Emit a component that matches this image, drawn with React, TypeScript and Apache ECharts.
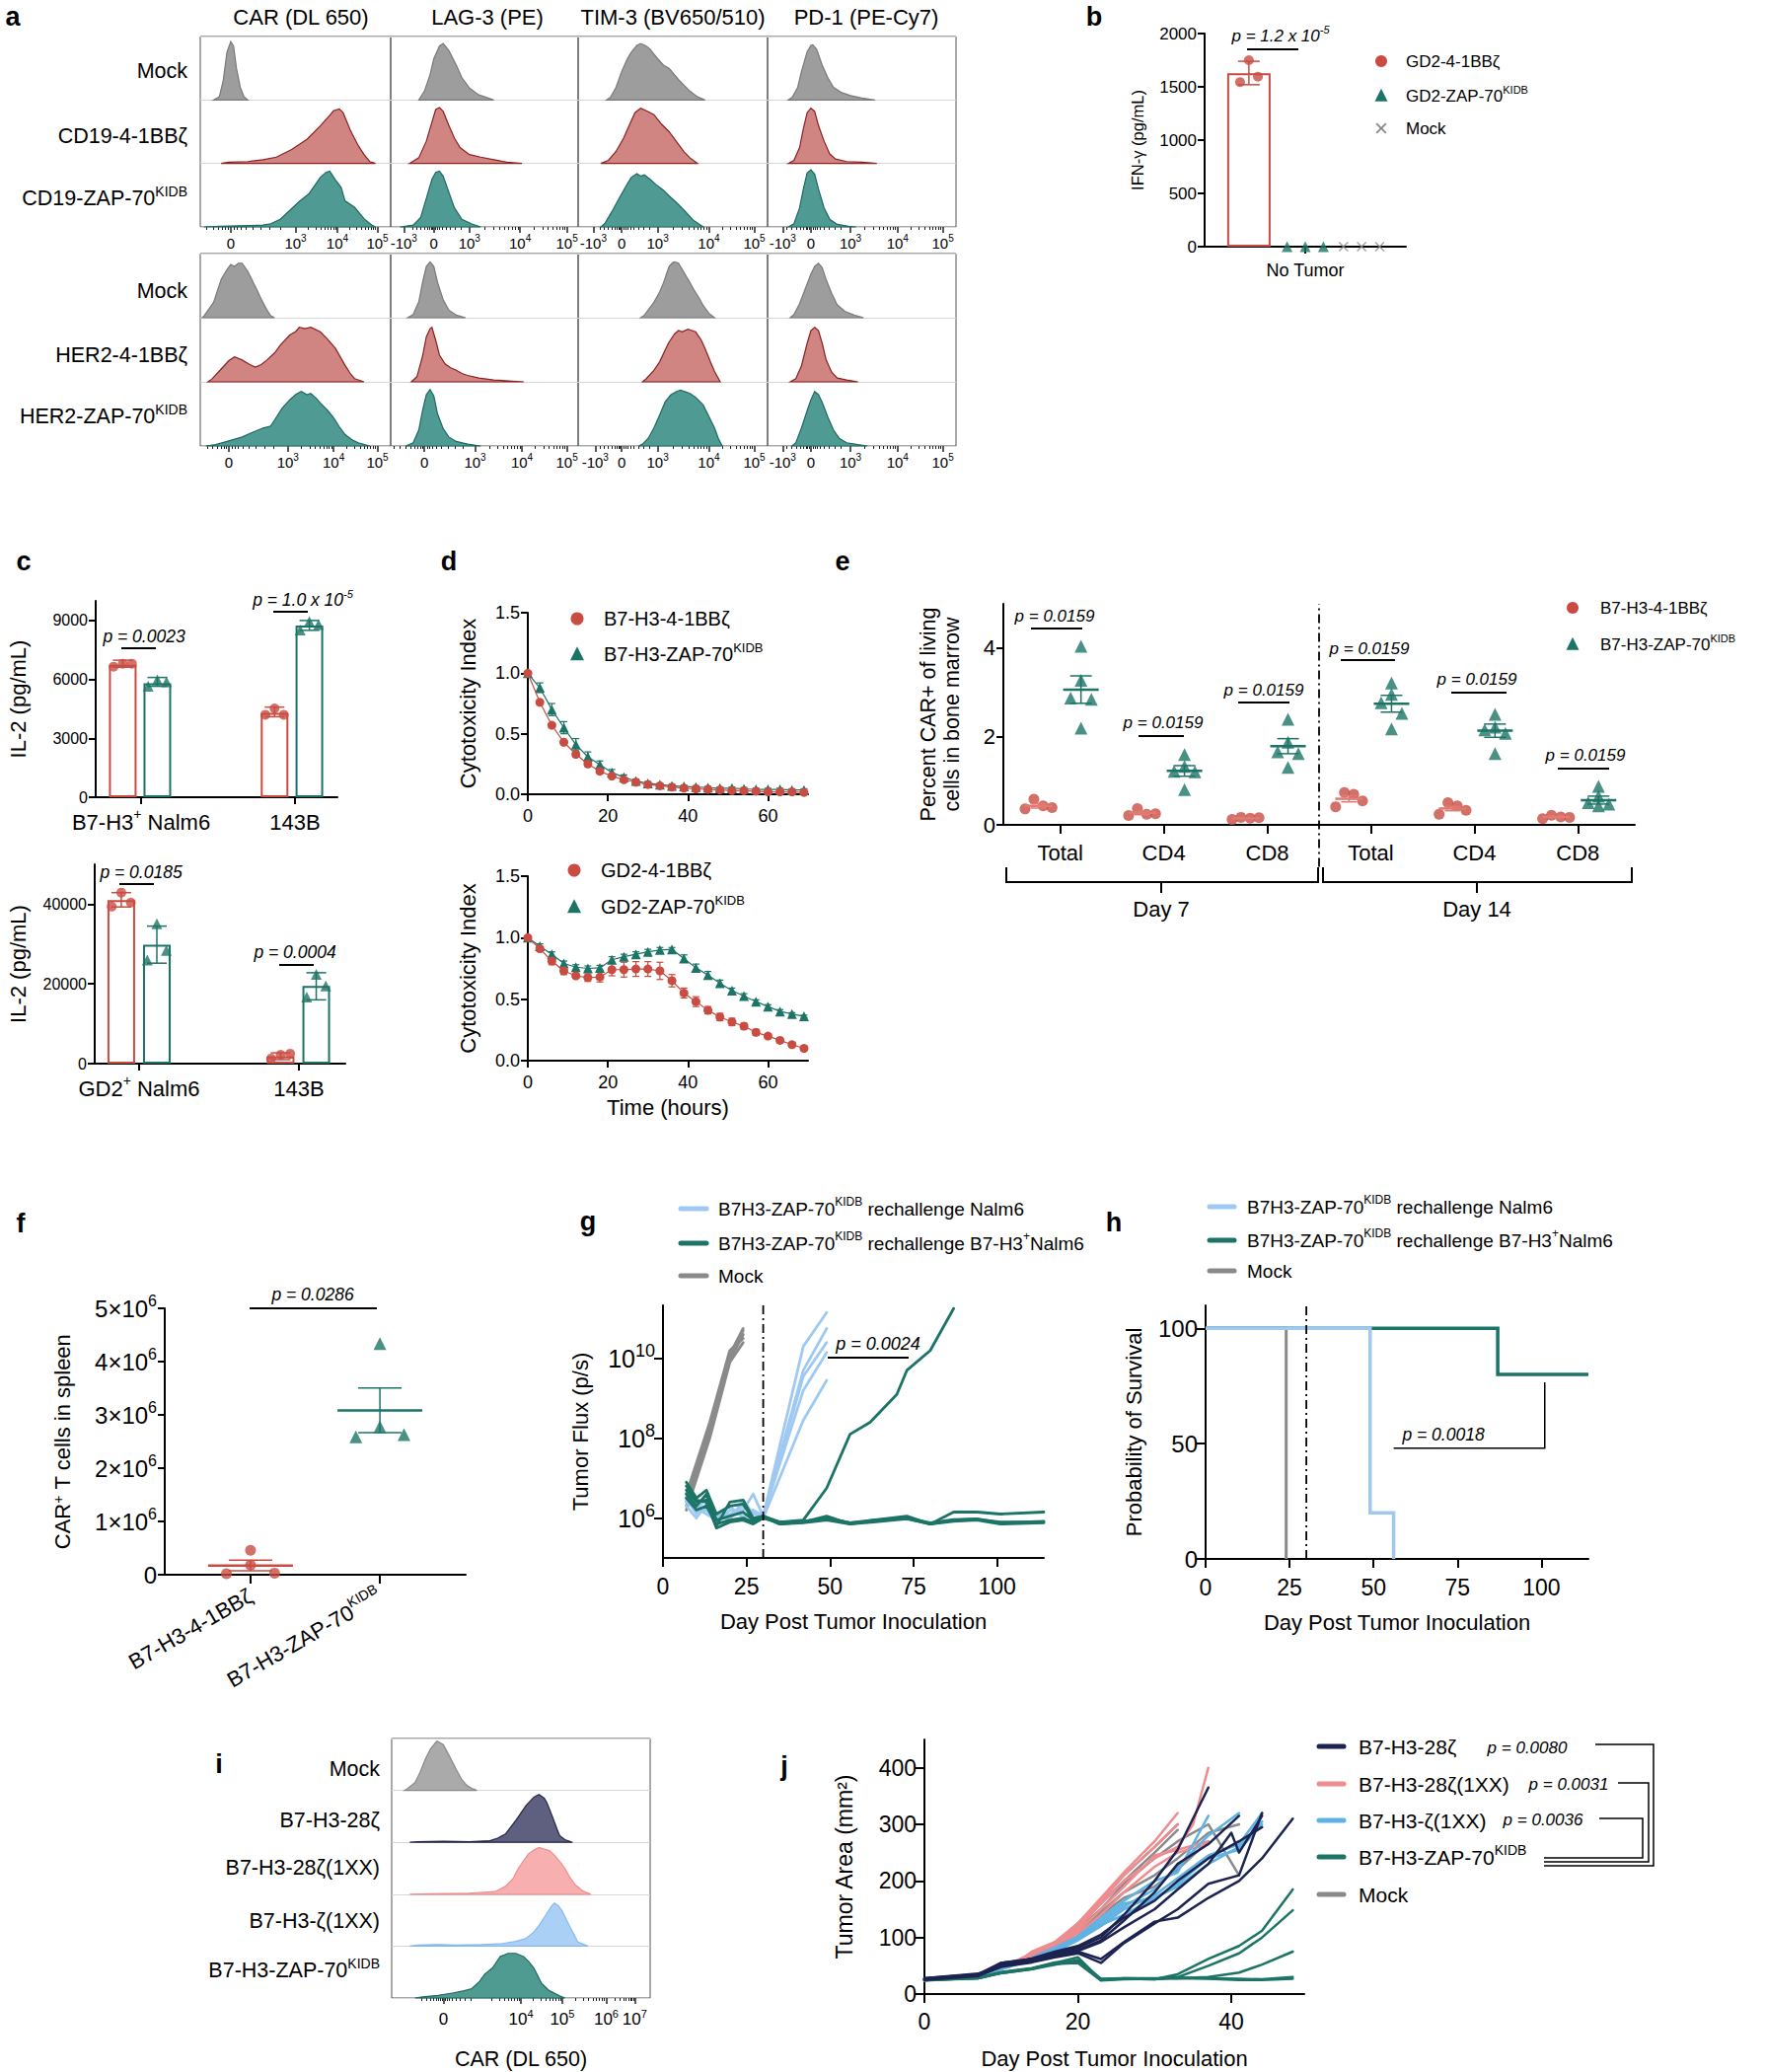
import React, { useEffect, useRef } from 'react';
import * as echarts from 'echarts';

type AnyObj = Record<string, any>;

const FONT = '"Liberation Sans", Arial, Helvetica, sans-serif';
const RED = '#c84c42';
const TEAL = '#1c7466';
const LBLUE = '#9fc9f2';
const NAVY = '#1c2350';
const PINK = '#ef8c90';
const SKY = '#5fb2e2';
const MOCKLINE = '#8a8a8a';

// ---------------- Panel a ----------------
const aColumnTitles = ['CAR (DL 650)', 'LAG-3 (PE)', 'TIM-3 (BV650/510)', 'PD-1 (PE-Cy7)'];
const aRowLabelsTop = ['Mock', 'CD19-4-1BBζ', 'CD19-ZAP-70^{KIDB}'];
const aRowLabelsBottom = ['Mock', 'HER2-4-1BBζ', 'HER2-ZAP-70^{KIDB}'];
const aTickLabTop = [
  ['0', '10^{3}', '10^{4}', '10^{5}'],
  ['-10^{3}', '0', '10^{3}', '10^{4}', '10^{5}'],
  ['-10^{3}', '0', '10^{3}', '10^{4}', '10^{5}'],
  ['-10^{3}', '0', '10^{3}', '10^{4}', '10^{5}'],
];
const aTickLabBottom = [
  ['0', '10^{3}', '10^{4}', '10^{5}'],
  ['0', '10^{3}', '10^{4}', '10^{5}'],
  ['-10^{3}', '0', '10^{3}', '10^{4}', '10^{5}'],
  ['-10^{3}', '0', '10^{3}', '10^{4}', '10^{5}'],
];
// histogram outlines: [column][row] -> [position %, relative height]
const aHistCD19 = [
  [
    [[7, 0], [10, 0.05], [12, 0.3], [14, 0.75], [16, 0.92], [17.5, 0.85], [19, 0.5], [21, 0.2], [23, 0.05], [25, 0]],
    [[11, 0], [15, 0.02], [25, 0.03], [33, 0.06], [40, 0.1], [48, 0.22], [56, 0.38], [63, 0.59], [68, 0.76], [70, 0.83], [73, 0.86], [75, 0.8], [79, 0.51], [83, 0.28], [86, 0.14], [89, 0.03], [92, 0]],
    [[2, 0], [10, 0.01], [25, 0.02], [33, 0.03], [37, 0.05], [42, 0.12], [47, 0.26], [52, 0.4], [57, 0.52], [63, 0.78], [66, 0.86], [68, 0.88], [71, 0.74], [74, 0.62], [76, 0.41], [81, 0.31], [86, 0.13], [90, 0.03], [92, 0]],
  ],
  [
    [[15, 0], [18, 0.14], [21, 0.4], [23, 0.65], [26, 0.85], [28, 0.89], [31, 0.78], [35, 0.55], [38, 0.35], [42, 0.19], [47, 0.08], [52, 0.03], [55, 0]],
    [[10, 0], [15, 0.09], [19, 0.35], [22, 0.65], [24, 0.85], [26, 0.88], [28, 0.82], [31, 0.6], [34, 0.4], [37, 0.25], [42, 0.14], [48, 0.1], [55, 0.06], [62, 0.02], [70, 0]],
    [[5, 0], [12, 0.03], [16, 0.15], [19, 0.45], [22, 0.75], [24, 0.86], [26, 0.88], [28, 0.8], [31, 0.55], [34, 0.3], [38, 0.12], [43, 0.05], [48, 0]],
  ],
  [
    [[15, 0], [17, 0.04], [20, 0.2], [23, 0.45], [26, 0.65], [28, 0.75], [31, 0.86], [33, 0.89], [36, 0.85], [38, 0.8], [42, 0.65], [45, 0.55], [48, 0.5], [53, 0.32], [59, 0.14], [63, 0.05], [67, 0]],
    [[12, 0], [16, 0.05], [20, 0.19], [24, 0.4], [27, 0.6], [30, 0.8], [33, 0.87], [36, 0.83], [40, 0.77], [44, 0.62], [48, 0.5], [53, 0.3], [56, 0.18], [59, 0.09], [63, 0]],
    [[12, 0], [14, 0.05], [18, 0.25], [22, 0.47], [26, 0.68], [28, 0.78], [31, 0.84], [33, 0.8], [35, 0.82], [38, 0.75], [41, 0.67], [45, 0.58], [48, 0.49], [52, 0.38], [56, 0.26], [61, 0.1], [66, 0]],
  ],
  [
    [[11, 0], [13, 0.04], [16, 0.2], [18, 0.45], [21, 0.76], [23, 0.86], [24, 0.87], [26, 0.8], [29, 0.55], [32, 0.35], [35, 0.2], [39, 0.12], [44, 0.07], [50, 0.03], [57, 0]],
    [[11, 0], [14, 0.05], [17, 0.25], [19, 0.55], [21, 0.8], [23, 0.87], [25, 0.82], [27, 0.6], [30, 0.35], [33, 0.15], [36, 0.07], [42, 0.03], [50, 0.02], [58, 0]],
    [[11, 0], [14, 0.05], [17, 0.3], [19, 0.6], [21, 0.85], [23, 0.9], [25, 0.83], [27, 0.6], [30, 0.3], [33, 0.12], [37, 0.04], [43, 0.01], [47, 0]],
  ],
];
const aHistHER2 = [
  [
    [[1, 0], [2, 0.03], [7, 0.24], [11, 0.6], [14, 0.75], [16, 0.83], [18, 0.8], [20, 0.85], [22, 0.85], [25, 0.72], [27, 0.6], [30, 0.42], [32, 0.29], [35, 0.12], [37, 0.03], [39, 0]],
    [[4, 0], [6, 0.04], [11, 0.2], [15, 0.33], [18, 0.39], [22, 0.34], [26, 0.27], [29, 0.23], [32, 0.27], [35, 0.34], [39, 0.45], [42, 0.57], [47, 0.73], [50, 0.78], [52, 0.85], [55, 0.83], [58, 0.85], [63, 0.78], [67, 0.66], [71, 0.52], [76, 0.26], [79, 0.12], [81, 0.05], [86, 0]],
    [[3, 0], [8, 0.02], [15, 0.08], [22, 0.14], [28, 0.22], [33, 0.28], [37, 0.31], [40, 0.45], [43, 0.59], [47, 0.72], [50, 0.8], [53, 0.85], [56, 0.8], [58, 0.82], [61, 0.74], [63, 0.67], [67, 0.55], [70, 0.44], [73, 0.3], [76, 0.18], [80, 0.09], [83, 0.05], [89, 0]],
  ],
  [
    [[9, 0], [12, 0.05], [15, 0.25], [17, 0.55], [19, 0.8], [21, 0.87], [23, 0.8], [25, 0.55], [28, 0.28], [31, 0.12], [35, 0.04], [40, 0]],
    [[11, 0], [14, 0.08], [17, 0.4], [19, 0.7], [21, 0.83], [22, 0.85], [24, 0.65], [26, 0.42], [29, 0.28], [32, 0.22], [35, 0.18], [38, 0.13], [41, 0.1], [47, 0.06], [55, 0.03], [65, 0.01], [71, 0]],
    [[8, 0], [12, 0.05], [15, 0.25], [17, 0.55], [19, 0.8], [21, 0.88], [23, 0.78], [25, 0.5], [28, 0.27], [31, 0.14], [35, 0.07], [41, 0.03], [48, 0]],
  ],
  [
    [[33, 0], [35, 0.04], [40, 0.24], [43, 0.4], [45, 0.54], [48, 0.8], [50, 0.86], [51, 0.87], [53, 0.85], [56, 0.7], [59, 0.55], [61, 0.44], [64, 0.3], [66, 0.19], [69, 0.07], [72, 0]],
    [[34, 0], [36, 0.05], [40, 0.18], [43, 0.31], [46, 0.5], [48, 0.62], [51, 0.75], [53, 0.8], [55, 0.78], [58, 0.82], [60, 0.8], [62, 0.78], [65, 0.65], [67, 0.52], [70, 0.3], [72, 0.16], [75, 0]],
    [[32, 0], [34, 0.03], [37, 0.12], [40, 0.28], [43, 0.48], [46, 0.69], [49, 0.8], [52, 0.85], [54, 0.87], [57, 0.84], [59, 0.82], [62, 0.76], [66, 0.64], [69, 0.46], [72, 0.28], [74, 0.12], [76, 0]],
  ],
  [
    [[12, 0], [14, 0.05], [17, 0.22], [20, 0.45], [23, 0.68], [25, 0.8], [27, 0.85], [29, 0.78], [31, 0.6], [34, 0.38], [37, 0.2], [41, 0.1], [46, 0.04], [51, 0]],
    [[12, 0], [15, 0.05], [18, 0.25], [21, 0.6], [23, 0.8], [25, 0.85], [27, 0.8], [29, 0.6], [31, 0.35], [34, 0.15], [37, 0.06], [42, 0.03], [48, 0]],
    [[13, 0], [15, 0.05], [18, 0.28], [21, 0.55], [23, 0.72], [25, 0.85], [27, 0.8], [29, 0.68], [32, 0.45], [35, 0.25], [38, 0.12], [42, 0.05], [48, 0.02], [53, 0]],
  ],
];

// ---------------- Panel b ----------------
const bCategory = ['No Tumor'];
const bLegend = ['GD2-4-1BBζ', 'GD2-ZAP-70^{KIDB}', 'Mock'];
const bBarMean = 1627;
const bBarSD = [1520, 1740];
const bRedPts = [1545, 1750, 1595];
const bTealPts = [0, 0, 0];
const bMockPts = [0, 0, 0];

// ---------------- Panel c ----------------
const cTopCats = ['B7-H3^{+} Nalm6', '143B'];
const cTopBars = [6750, 5800, 4300, 8750];
const cTopErr = [[6620, 6980], [5650, 6100], [4100, 4590], [8500, 9000]];
const cTopPts = [[6650, 6800, 6800], [5650, 5980, 5880], [4200, 4520, 4200], [8520, 8950, 8800]];
const cBotCats = ['GD2^{+} Nalm6', '143B'];
const cBotBars = [41000, 29800, 1800, 19500];
const cBotErr = [[39300, 42900], [25200, 34500], [1000, 2700], [16000, 22800]];
const cBotPts = [[39400, 42900, 40400], [26000, 35100, 28400], [1250, 2200, 2500], [16700, 22400, 19500]];

// ---------------- Panel d ----------------
const dTime = [0, 3, 6, 9, 12, 15, 18, 21, 24, 27, 30, 33, 36, 39, 42, 45, 48, 51, 54, 57, 60, 63, 66, 69];
const dTopRed = [1.0, 0.76, 0.57, 0.43, 0.33, 0.25, 0.19, 0.15, 0.12, 0.1, 0.08, 0.07, 0.06, 0.05, 0.045, 0.04, 0.035, 0.03, 0.03, 0.025, 0.02, 0.02, 0.02, 0.015];
const dTopTeal = [1.0, 0.88, 0.7, 0.55, 0.41, 0.31, 0.245, 0.18, 0.14, 0.11, 0.09, 0.08, 0.07, 0.065, 0.06, 0.055, 0.05, 0.05, 0.045, 0.04, 0.04, 0.04, 0.035, 0.035];
const dTopRedSD = [0, 0.02, 0.02, 0.02, 0.02, 0.02, 0.015, 0.01, 0.01, 0.01, 0.01, 0.01, 0.01, 0.01, 0.01, 0.01, 0.01, 0.01, 0.01, 0.01, 0.01, 0.01, 0.01, 0.01];
const dTopTealSD = [0, 0.04, 0.05, 0.05, 0.05, 0.04, 0.03, 0.025, 0.02, 0.015, 0.015, 0.01, 0.01, 0.01, 0.01, 0.01, 0.01, 0.01, 0.01, 0.01, 0.01, 0.01, 0.01, 0.01];
const dBotRed = [1.0, 0.91, 0.81, 0.73, 0.69, 0.675, 0.68, 0.74, 0.74, 0.745, 0.745, 0.73, 0.65, 0.55, 0.48, 0.41, 0.355, 0.315, 0.28, 0.23, 0.2, 0.165, 0.13, 0.1];
const dBotTeal = [1.0, 0.93, 0.865, 0.79, 0.76, 0.75, 0.755, 0.82, 0.845, 0.865, 0.885, 0.9, 0.905, 0.83, 0.755, 0.695, 0.63, 0.57, 0.525, 0.48, 0.44, 0.4, 0.38, 0.36];
const dBotRedSD = [0, 0.02, 0.03, 0.03, 0.02, 0.03, 0.04, 0.05, 0.06, 0.06, 0.06, 0.07, 0.05, 0.04, 0.04, 0.03, 0.03, 0.03, 0.025, 0.025, 0.02, 0.02, 0.02, 0.02];
const dBotTealSD = [0, 0.02, 0.02, 0.02, 0.02, 0.02, 0.02, 0.025, 0.02, 0.02, 0.02, 0.02, 0.015, 0.03, 0.03, 0.03, 0.025, 0.02, 0.02, 0.015, 0.015, 0.015, 0.01, 0.01];
const dXTicks = [0, 20, 40, 60];
const dYTicks = [0, 0.5, 1.0, 1.5];

// ---------------- Panel e ----------------
const eCats = ['Total', 'CD4', 'CD8', 'Total', 'CD4', 'CD8'];
const eGroups = ['Day 7', 'Day 14'];
const eRed = [[0.36, 0.58, 0.43, 0.39], [0.21, 0.37, 0.24, 0.25], [0.12, 0.17, 0.15, 0.16], [0.41, 0.73, 0.69, 0.54], [0.24, 0.5, 0.43, 0.33], [0.14, 0.22, 0.18, 0.17]];
const eTeal = [[4.04, 3.27, 2.87, 2.84, 2.19], [1.59, 1.32, 1.21, 1.2, 0.8], [2.39, 1.87, 1.65, 1.61, 1.3], [3.21, 2.95, 2.76, 2.52, 2.17], [2.5, 2.21, 2.15, 2.07, 1.61], [0.87, 0.65, 0.5, 0.47, 0.43]];
const eRedMean = [0.43, 0.27, 0.15, 0.59, 0.37, 0.18];
const eRedSEM = [0.05, 0.04, 0.01, 0.07, 0.05, 0.02];
const eTealMean = [3.06, 1.22, 1.78, 2.74, 2.13, 0.56];
const eTealSEM = [0.31, 0.12, 0.17, 0.19, 0.15, 0.09];
const eP = ['p = 0.0159', 'p = 0.0159', 'p = 0.0159', 'p = 0.0159', 'p = 0.0159', 'p = 0.0159'];

// ---------------- Panel f ----------------
const fCats = ['B7-H3-4-1BBζ', 'B7-H3-ZAP-70^{KIDB}'];
const fRed = [20000, 457000, 180000, 30000];
const fTeal = [4340000, 2780000, 2590000, 2630000];
const fRedMean = 172000;
const fRedSEM = 100000;
const fTealMean = 3085000;
const fTealSEM = 420000;
const fYTicks = [0, 1e6, 2e6, 3e6, 4e6, 5e6];

// ---------------- Panel g (log10 of tumor flux, p/s) ----------------
const gLegend = ['B7H3-ZAP-70^{KIDB} rechallenge Nalm6', 'B7H3-ZAP-70^{KIDB} rechallenge B7-H3^{+}Nalm6', 'Mock'];
const gMock = [
  [[7, 6.5], [14, 8.3], [20, 10.1], [24, 10.75]],
  [[7, 6.3], [14, 8.1], [20, 9.95], [24, 10.6]],
  [[7, 6.6], [14, 8.4], [20, 10.2], [24, 10.5]],
  [[7, 6.2], [14, 8.0], [20, 9.9], [24, 10.4]],
  [[7, 6.4], [14, 8.2], [20, 10.05], [24, 10.7]],
];
const gNalm6 = [
  [[7, 6.5], [10, 6.1], [13, 6.3], [16, 6.0], [20, 6.1], [24, 6.2], [27, 6.6], [30, 6.05], [42, 10.3], [49, 11.15]],
  [[7, 6.4], [10, 6.2], [13, 6.5], [16, 6.1], [20, 5.95], [24, 6.45], [27, 6.1], [30, 6.05], [42, 9.7], [49, 10.75]],
  [[7, 6.6], [10, 6.15], [13, 6.2], [16, 5.9], [20, 6.2], [24, 6.1], [27, 6.0], [30, 6.0], [42, 9.55], [49, 10.4]],
  [[7, 6.3], [10, 6.0], [13, 6.35], [16, 6.05], [20, 6.3], [24, 6.0], [27, 6.2], [30, 6.05], [42, 9.2], [49, 10.15]],
  [[7, 6.45], [10, 6.25], [13, 6.1], [16, 5.95], [20, 6.05], [24, 6.3], [27, 6.15], [30, 6.0], [42, 8.45], [49, 9.45]],
];
const gB7H3 = [
  [[7, 6.9], [10, 6.5], [13, 6.7], [16, 6.1], [20, 6.3], [24, 6.35], [27, 5.95], [30, 6.05], [35, 5.9], [42, 5.95], [49, 6.75], [56, 8.1], [62, 8.4], [70, 9.1], [73, 9.7], [80, 10.2], [87, 11.25]],
  [[7, 6.7], [10, 6.4], [13, 6.45], [16, 5.8], [20, 6.4], [24, 6.45], [27, 6.0], [30, 6.05], [35, 5.85], [42, 5.9], [49, 6.0], [56, 5.88], [63, 5.95], [73, 6.0], [80, 5.85], [87, 6.15], [94, 6.15], [101, 6.1], [114, 6.15]],
  [[7, 6.5], [10, 6.2], [13, 6.3], [16, 5.85], [20, 5.95], [24, 6.0], [27, 5.9], [30, 6.0], [35, 5.9], [42, 5.9], [49, 6.05], [56, 5.85], [63, 5.95], [73, 6.05], [80, 5.85], [87, 5.95], [94, 5.98], [101, 5.88], [114, 5.92]],
  [[7, 6.6], [10, 6.3], [13, 6.6], [16, 5.95], [20, 6.05], [24, 6.15], [27, 5.95], [30, 6.02], [35, 5.85], [42, 5.88], [49, 5.95], [56, 5.85], [63, 5.9], [73, 5.98], [80, 5.85], [87, 5.92], [94, 5.95], [101, 5.85], [114, 5.88]],
  [[7, 6.8], [10, 6.45], [13, 6.4], [16, 5.75], [20, 5.9], [24, 5.95], [27, 5.85], [30, 6.0], [35, 5.88], [42, 5.92], [49, 6.0], [56, 5.88], [63, 5.92], [73, 6.0], [80, 5.88], [87, 5.96], [94, 5.97], [101, 5.9], [114, 5.9]],
];
const gXTicks = [0, 25, 50, 75, 100];
const gYTicks = [6, 8, 10];
const gYLabels = ['10^{6}', '10^{8}', '10^{10}'];

// ---------------- Panel h ----------------
const hMock = [[0, 100], [24, 100], [24, 0]];
const hNalm6 = [[0, 100], [49, 100], [49, 20], [56, 20], [56, 0]];
const hB7H3 = [[0, 100], [87, 100], [87, 80], [114, 80]];
const hYTicks = [0, 50, 100];

// ---------------- Panel i ----------------
const iRows = ['Mock', 'B7-H3-28ζ', 'B7-H3-28ζ(1XX)', 'B7-H3-ζ(1XX)', 'B7-H3-ZAP-70^{KIDB}'];
const iTickLab = ['0', '10^{4}', '10^{5}', '10^{6}', '10^{7}'];
const iHist = [
  [[5, 0], [6, 0.03], [9, 0.15], [11, 0.35], [13, 0.6], [15, 0.8], [17.5, 0.95], [20, 0.88], [23, 0.6], [25, 0.4], [27, 0.22], [29, 0.1], [31, 0.04], [33, 0]],
  [[7, 0], [10, 0.01], [20, 0.02], [30, 0.01], [38, 0.03], [41, 0.08], [44, 0.16], [48, 0.42], [52, 0.71], [55, 0.87], [57, 0.92], [59, 0.85], [60, 0.77], [62, 0.52], [64, 0.25], [65, 0.13], [67, 0.05], [70, 0]],
  [[7, 0], [15, 0.01], [30, 0.02], [40, 0.05], [44, 0.15], [47, 0.3], [49, 0.5], [53, 0.78], [55, 0.85], [57, 0.9], [59, 0.87], [61, 0.84], [63, 0.75], [65, 0.63], [67, 0.5], [69, 0.32], [71, 0.18], [74, 0.06], [77, 0]],
  [[7, 0], [10, 0.02], [18, 0.03], [25, 0.02], [35, 0.03], [43, 0.05], [48, 0.09], [52, 0.15], [55, 0.27], [57, 0.4], [59, 0.55], [60, 0.63], [62, 0.78], [63, 0.83], [64.5, 0.78], [66, 0.67], [69, 0.37], [71, 0.18], [72, 0.08], [76, 0]],
  [[9, 0], [12, 0.02], [18, 0.05], [24, 0.1], [28, 0.14], [31, 0.18], [34, 0.32], [36, 0.46], [39, 0.58], [42, 0.8], [45, 0.86], [48, 0.86], [51, 0.8], [53, 0.7], [55, 0.58], [58, 0.28], [61, 0.14], [65, 0.04], [67, 0]],
];

// ---------------- Panel j ----------------
const jLegend = ['B7-H3-28ζ', 'B7-H3-28ζ(1XX)', 'B7-H3-ζ(1XX)', 'B7-H3-ZAP-70^{KIDB}', 'Mock'];
const jP = ['p = 0.0080', 'p = 0.0031', 'p = 0.0036'];
const j28z = [
  [[0, 28], [7, 35], [10, 55], [14, 62], [17, 72], [20, 82], [23, 100], [26, 140], [30, 200], [33, 255], [37, 365]],
  [[0, 27], [7, 33], [10, 50], [14, 58], [17, 70], [20, 78], [23, 95], [26, 130], [30, 180], [33, 230], [37, 265], [41, 315]],
  [[0, 25], [7, 32], [10, 48], [14, 56], [17, 65], [20, 72], [23, 55], [26, 90], [30, 125], [33, 150], [37, 195], [41, 210], [44, 320]],
  [[0, 26], [7, 34], [10, 52], [14, 60], [17, 68], [20, 75], [23, 62], [26, 92], [30, 128], [33, 135], [37, 170], [41, 200], [44, 240], [48, 310]],
  [[0, 28], [7, 36], [10, 50], [14, 63], [17, 75], [20, 85], [23, 105], [26, 135], [30, 165], [33, 200], [37, 240], [41, 270], [44, 295]],
  [[0, 27], [7, 33], [10, 55], [14, 62], [17, 70], [20, 76], [23, 92], [26, 118], [30, 150], [33, 185], [37, 230], [40, 285], [41, 250], [44, 315]],
];
const j28z1xx = [
  [[0, 25], [7, 33], [10, 45], [12, 55], [14, 75], [17, 92], [20, 125], [23, 170], [26, 215], [30, 270], [33, 320]],
  [[0, 24], [7, 32], [10, 44], [14, 70], [17, 88], [20, 115], [23, 160], [26, 200], [30, 240], [33, 260], [35, 300], [37, 400]],
  [[0, 26], [7, 33], [10, 46], [14, 72], [17, 85], [20, 110], [23, 150], [26, 190], [30, 245], [33, 255], [37, 270]],
  [[0, 25], [7, 34], [10, 47], [14, 68], [17, 90], [20, 120], [23, 165], [26, 210], [30, 260], [33, 300]],
  [[0, 25], [7, 32], [10, 45], [14, 65], [17, 80], [20, 105], [23, 140], [26, 180], [30, 225], [33, 250], [37, 265]],
];
const jz1xx = [
  [[0, 25], [7, 30], [10, 45], [14, 62], [17, 78], [20, 98], [23, 125], [26, 155], [30, 185], [33, 225], [37, 280], [41, 320]],
  [[0, 26], [7, 31], [10, 44], [14, 60], [17, 75], [20, 95], [23, 120], [26, 150], [30, 175], [33, 205], [37, 245], [41, 265], [44, 320]],
  [[0, 25], [7, 30], [10, 46], [14, 63], [17, 80], [20, 100], [23, 130], [26, 160], [30, 170], [33, 190], [37, 230], [41, 260], [44, 305]],
  [[0, 24], [7, 31], [10, 45], [14, 64], [17, 82], [20, 102], [23, 135], [26, 165], [30, 200], [33, 215], [37, 315]],
  [[0, 25], [7, 30], [10, 44], [14, 61], [17, 76], [20, 96], [23, 122], [26, 140], [30, 170], [33, 195], [37, 240], [41, 255], [44, 300]],
];
const jZap = [
  [[0, 25], [7, 28], [10, 38], [14, 45], [17, 55], [20, 65], [23, 25], [26, 27], [30, 26], [33, 35], [37, 62], [41, 85], [44, 112], [48, 185]],
  [[0, 24], [7, 28], [10, 37], [14, 44], [17, 52], [20, 60], [23, 27], [26, 28], [30, 27], [33, 30], [37, 50], [41, 72], [44, 100], [48, 148]],
  [[0, 26], [7, 29], [10, 39], [14, 46], [17, 56], [20, 58], [23, 25], [26, 28], [30, 28], [33, 28], [37, 30], [41, 38], [44, 52], [48, 75]],
  [[0, 25], [7, 28], [10, 38], [14, 45], [17, 53], [20, 55], [23, 24], [26, 26], [30, 27], [33, 28], [37, 27], [41, 25], [44, 25], [48, 27]],
  [[0, 25], [7, 29], [10, 37], [14, 44], [17, 54], [20, 57], [23, 26], [26, 27], [30, 26], [33, 29], [37, 28], [41, 27], [44, 26], [48, 30]],
];
const jMock = [
  [[0, 25], [7, 33], [10, 48], [14, 70], [17, 90], [20, 125], [23, 165], [26, 210], [30, 260], [33, 300]],
  [[0, 26], [7, 34], [10, 47], [14, 68], [17, 85], [20, 115], [23, 150], [26, 195], [30, 240], [33, 270], [37, 300], [41, 210]],
  [[0, 25], [7, 32], [10, 46], [14, 66], [17, 82], [20, 110], [23, 145], [26, 180], [30, 210], [33, 240], [37, 285], [41, 300]],
  [[0, 24], [7, 33], [10, 47], [14, 67], [17, 84], [20, 112], [23, 140], [26, 170], [30, 190], [33, 220], [37, 270]],
  [[0, 25], [7, 33], [10, 48], [14, 69], [17, 88], [20, 120], [23, 160], [26, 200], [30, 250], [33, 290]],
];
const jXTicks = [0, 20, 40];
const jYTicks = [0, 100, 200, 300, 400];

// ---------------- helpers ----------------
const sup = (s: string) => s.replace(/\^\{([^}]*)\}/g, '{sup|$1}');

const labelAt = (v: number, ticks: number[], labels: string[]) => {
  const i = ticks.findIndex((t) => Math.abs(t - v) < 1e-6 * Math.max(1, Math.abs(t)));
  return i >= 0 ? sup(labels[i]) : '';
};

const lbl = (size: number, ratio = 0.65) => ({
  color: '#000',
  fontSize: size,
  fontFamily: FONT,
  lineHeight: Math.round(size * 1.35),
  rich: {
    sup: {
      fontSize: Math.round(size * ratio),
      lineHeight: Math.round(size * ratio),
      verticalAlign: 'top',
      fontFamily: FONT,
      color: '#000',
    },
  },
});

const AXLINE = { show: true, onZero: false, lineStyle: { color: '#000', width: 2 } };
const tickStyle = (len = 7) => ({ show: true, length: len, lineStyle: { color: '#000', width: 2 } });

const numAxis = (min: number, max: number, ticks: number[], labels: string[], size: number, o: AnyObj = {}) => {
  const ax: AnyObj = {
    type: 'value',
    min,
    max,
    axisLine: AXLINE,
    axisTick: { ...tickStyle(o.tickLen ?? 7), customValues: ticks },
    axisLabel: {
      ...lbl(size, o.supRatio ?? 0.65),
      margin: o.margin ?? 8,
      rotate: o.rotate ?? 0,
      customValues: ticks,
      formatter: (v: number) => labelAt(v, ticks, labels),
    },
    splitLine: { show: false },
  };
  if (o.name) {
    ax.name = sup(o.name);
    ax.nameLocation = 'middle';
    ax.nameGap = o.nameGap;
    ax.nameTextStyle = { ...lbl(o.nameSize), lineHeight: o.nameLH ?? o.nameSize };
  }
  return ax;
};

function gText(x: number, y: number, text: string, size: number, o: AnyObj = {}) {
  const align = o.align || 'center';
  const va = o.va || 'middle';
  return {
    type: 'text',
    x,
    y,
    silent: true,
    z: 100,
    style: {
      text: sup(text),
      fill: o.color || '#000',
      fontSize: size,
      fontFamily: FONT,
      fontStyle: o.italic ? 'italic' : 'normal',
      fontWeight: o.bold ? 'bold' : 'normal',
      align,
      verticalAlign: va,
      textAlign: align,
      textVerticalAlign: va,
      lineHeight: Math.round(size * 1.35),
      rich: {
        sup: {
          fontSize: Math.round(size * 0.65),
          lineHeight: Math.round(size * 0.65),
          verticalAlign: 'top',
          fontFamily: FONT,
          fontStyle: o.italic ? 'italic' : 'normal',
          fill: o.color || '#000',
        },
      },
    },
  };
}
const gLine = (x1: number, y1: number, x2: number, y2: number, w = 2, color = '#000') => ({
  type: 'line', silent: true, z: 100, shape: { x1, y1, x2, y2 }, style: { stroke: color, lineWidth: w, lineCap: 'butt' },
});
const gPoly = (points: number[][], w = 1.5) => ({
  type: 'polyline', silent: true, z: 100, shape: { points }, style: { stroke: '#000', lineWidth: w, fill: null },
});
const gCircle = (cx: number, cy: number, r: number, fill: string) => ({
  type: 'circle', silent: true, z: 100, shape: { cx, cy, r }, style: { fill },
});
const gTri = (cx: number, cy: number, s: number, fill: string) => ({
  type: 'polygon', silent: true, z: 100,
  shape: { points: [[cx, cy - s * 0.55], [cx + s * 0.5, cy + s * 0.45], [cx - s * 0.5, cy + s * 0.45]] },
  style: { fill },
});
const gCross = (cx: number, cy: number, s: number, fill: string) => {
  const h = s / 2, t = s * 0.12;
  return {
    type: 'polygon', silent: true, z: 100,
    shape: {
      points: [
        [cx - h, cy - h + t], [cx - h + t, cy - h], [cx, cy - t], [cx + h - t, cy - h], [cx + h, cy - h + t], [cx + t, cy],
        [cx + h, cy + h - t], [cx + h - t, cy + h], [cx, cy + t], [cx - h + t, cy + h], [cx - h, cy + h - t], [cx - t, cy],
      ],
    },
    style: { fill },
  };
};

const CROSS_PATH = 'path://M1,0 L5,4 L9,0 L10,1 L6,5 L10,9 L9,10 L5,6 L1,10 L0,9 L4,5 L0,1 Z';

function histSeries(xi: number, yi: number, hists: number[][][], fills: string[], strokes: string[]) {
  const n = hists.length;
  return {
    type: 'custom',
    xAxisIndex: xi,
    yAxisIndex: yi,
    silent: true,
    data: hists.map((_, i) => [i, 0]),
    renderItem: (params: any, api: any) => {
      const i = params.dataIndex;
      const base = n - 1 - i;
      const pts = hists[i].map((p) => api.coord([p[0], base + p[1]]));
      return { type: 'polygon', shape: { points: pts }, style: { fill: fills[i], stroke: strokes[i], lineWidth: 1.2 } };
    },
  };
}

function errSeries(xi: number, yi: number, items: number[][], capPx: number, colors: string[] | string, lw = 1.5) {
  return {
    type: 'custom',
    xAxisIndex: xi,
    yAxisIndex: yi,
    silent: true,
    z: 4,
    data: items,
    renderItem: (params: any, api: any) => {
      const x = api.value(0), lo = api.value(1), hi = api.value(2);
      const p1 = api.coord([x, lo]);
      const p2 = api.coord([x, hi]);
      const h = capPx / 2;
      const color = Array.isArray(colors) ? colors[params.dataIndex] : colors;
      const st = { stroke: color, lineWidth: lw };
      return {
        type: 'group',
        children: [
          { type: 'line', shape: { x1: p1[0], y1: p1[1], x2: p2[0], y2: p2[1] }, style: st },
          { type: 'line', shape: { x1: p1[0] - h, y1: p1[1], x2: p1[0] + h, y2: p1[1] }, style: st },
          { type: 'line', shape: { x1: p2[0] - h, y1: p2[1], x2: p2[0] + h, y2: p2[1] }, style: st },
        ],
      };
    },
  };
}

function meanSeries(xi: number, yi: number, items: number[][], halfPx: number, color: string, lw = 2.5) {
  return {
    type: 'custom',
    xAxisIndex: xi,
    yAxisIndex: yi,
    silent: true,
    z: 4,
    data: items,
    renderItem: (params: any, api: any) => {
      const p = api.coord([api.value(0), api.value(1)]);
      return { type: 'line', shape: { x1: p[0] - halfPx, y1: p[1], x2: p[0] + halfPx, y2: p[1] }, style: { stroke: color, lineWidth: lw } };
    },
  };
}

function minorTicks(pos: number[], labels: string[]) {
  const out: number[] = [];
  const zi = labels.indexOf('0');
  const decs = labels.map((l, i) => ({ l, p: pos[i] })).filter((d) => d.l.startsWith('10'));
  if (zi >= 0 && decs.length) {
    const z = pos[zi];
    const span = decs[0].p - z;
    [0.05, 0.1, 0.16, 0.24, 0.34, 0.46, 0.6, 0.76].forEach((f) => {
      out.push(z + span * f);
      out.push(z - span * f * 0.8);
    });
  }
  for (let k = 0; k + 1 < decs.length; k++) {
    const a = decs[k].p, b = decs[k + 1].p;
    for (let m = 2; m <= 9; m++) out.push(a + Math.log10(m) * (b - a));
  }
  return out.filter((v) => v > 0.5 && v < 99.5);
}

function buildOption() {
  const grid: AnyObj[] = [];
  const xAxis: AnyObj[] = [];
  const yAxis: AnyObj[] = [];
  const series: AnyObj[] = [];
  const graphic: AnyObj[] = [];

  const addGrid = (g: AnyObj, xa: AnyObj, ya: AnyObj) => {
    const gi = grid.length;
    grid.push({ containLabel: false, outerBoundsMode: 'none', ...g });
    const xi = xAxis.length;
    xAxis.push({ gridIndex: gi, ...xa });
    const yi = yAxis.length;
    yAxis.push({ gridIndex: gi, ...ya });
    return { gi, xi, yi };
  };

  const lineSeries = (ax: AnyObj, data: number[][], color: string, width: number, extra: AnyObj = {}) => ({
    type: 'line', xAxisIndex: ax.xi, yAxisIndex: ax.yi, data, symbol: 'none', silent: true,
    lineStyle: { color, width, cap: 'round', join: 'round' }, ...extra,
  });
  const dashDot = (ax: AnyObj, data: number[][]) =>
    lineSeries(ax, data, '#000', 1.8, { clip: false, lineStyle: { color: '#000', width: 1.8, type: [9, 4, 2, 4] } });

  // panel letters
  const letters: [string, number, number][] = [
    ['a', 13, 17], ['b', 1109, 17], ['c', 24, 569], ['d', 455, 569], ['e', 854, 569],
    ['f', 21, 1240], ['g', 596, 1238], ['h', 1129, 1239], ['i', 222, 1788], ['j', 795, 1790],
  ];
  letters.forEach(([t, x, y]) => graphic.push(gText(x, y, t, 27, { bold: true })));

  // ================= Panel a =================
  const aColX = [203, 396, 586, 778, 969];
  const aHeaderX = [305, 494, 682, 878];
  const aTickPosTop = [[16, 50, 72, 93], [7, 23, 42, 69, 94], [8, 23, 42, 69, 93], [8, 23, 44, 69, 93]];
  const aTickPosBottom = [[15, 46, 70, 93], [18, 45, 70, 94], [9, 23, 42, 69, 93], [8, 23, 44, 69, 93]];
  const A_FILLS = ['#9d9d9d', '#d08582', '#4f9b93'];
  const A_STROKES = ['#7a7a7a', '#8c2020', '#1d6a62'];
  const blocks = [
    { top: 37, height: 193, hists: aHistCD19, rows: aRowLabelsTop, rowY: [72, 138, 201], pos: aTickPosTop, labs: aTickLabTop },
    { top: 257, height: 195, hists: aHistHER2, rows: aRowLabelsBottom, rowY: [295, 360, 422], pos: aTickPosBottom, labs: aTickLabBottom },
  ];
  blocks.forEach((bk) => {
    for (let c = 0; c < 4; c++) {
      const pos = bk.pos[c];
      const labs = bk.labs[c];
      const ax = addGrid(
        { left: aColX[c], top: bk.top, width: aColX[c + 1] - aColX[c], height: bk.height, show: true, borderColor: '#555', borderWidth: 1 },
        {
          type: 'value', min: 0, max: 100,
          axisLine: { show: false },
          axisTick: { show: true, length: 6, customValues: pos, lineStyle: { color: '#222', width: 1.5 } },
          axisLabel: { ...lbl(15), margin: 6, customValues: pos, formatter: (v: number) => labelAt(v, pos, labs) },
          splitLine: { show: false },
        },
        {
          type: 'value', min: 0, max: 3, interval: 1,
          axisLine: { show: false }, axisTick: { show: false }, axisLabel: { show: false },
          splitLine: { show: true, lineStyle: { color: '#d6d6d6', width: 1 } },
        },
      );
      xAxis.push({
        gridIndex: ax.gi, type: 'value', min: 0, max: 100, position: 'bottom',
        axisLine: { show: false },
        axisTick: { show: true, length: 3, customValues: minorTicks(pos, labs), lineStyle: { color: '#222', width: 1 } },
        axisLabel: { show: false }, splitLine: { show: false },
      });
      series.push(histSeries(ax.xi, ax.yi, bk.hists[c], A_FILLS, A_STROKES));
    }
    bk.rows.forEach((r, i) => graphic.push(gText(190, bk.rowY[i], r, 21.5, { align: 'right' })));
  });
  aColumnTitles.forEach((t, i) => graphic.push(gText(aHeaderX[i], 17, t, 22)));

  // ================= Panel b =================
  const bx = addGrid(
    { left: 1221, top: 34, width: 204, height: 216 },
    numAxis(0, 100, [50], bCategory, 18, { margin: 12 }),
    numAxis(0, 2000, [0, 500, 1000, 1500, 2000], ['0', '500', '1000', '1500', '2000'], 17, { name: 'IFN-γ (pg/mL)', nameGap: 60, nameSize: 16.5 }),
  );
  series.push({
    type: 'bar', xAxisIndex: bx.xi, yAxisIndex: bx.yi, barWidth: 44, silent: true,
    data: [[22, bBarMean]], itemStyle: { color: '#fff', borderColor: RED, borderWidth: 2 },
  });
  series.push(errSeries(bx.xi, bx.yi, [[22, bBarSD[0], bBarSD[1]]], 22, RED, 1.5));
  const bJit = [-4.4, 0, 4.5];
  series.push({ type: 'scatter', xAxisIndex: bx.xi, yAxisIndex: bx.yi, symbol: 'circle', symbolSize: 10, z: 5, silent: true, itemStyle: { color: RED }, data: bRedPts.map((v, k) => [22 + bJit[k], v]) });
  series.push({ type: 'scatter', xAxisIndex: bx.xi, yAxisIndex: bx.yi, symbol: 'triangle', symbolSize: 11, z: 5, silent: true, itemStyle: { color: TEAL }, data: bTealPts.map((v, k) => [41 + 9 * k, v]) });
  series.push({ type: 'scatter', xAxisIndex: bx.xi, yAxisIndex: bx.yi, symbol: CROSS_PATH, symbolSize: 10, z: 5, silent: true, itemStyle: { color: MOCKLINE }, data: bMockPts.map((v, k) => [69 + 9 * k, v]) });
  graphic.push(gText(1298, 36, 'p = 1.2 x 10^{-5}', 17, { italic: true }));
  graphic.push(gLine(1264, 50, 1316, 50));
  graphic.push(gCircle(1400, 62, 6, RED));
  graphic.push(gTri(1400, 97, 13, TEAL));
  graphic.push(gCross(1400, 130, 11, MOCKLINE));
  bLegend.forEach((t, i) => graphic.push(gText(1425, [62, 97, 130][i], t, 17, { align: 'left' })));

  // ================= Panel c =================
  const cJit = [-3.8, 0, 3.8];
  const cPanel = (g: AnyObj, tickX: number[], cats: string[], barX: number[], yMax: number, yTicks: number[], bars: number[], err: number[][], pts: number[][]) => {
    const ax = addGrid(
      g,
      numAxis(0, 100, tickX, cats, 22, { margin: 10 }),
      numAxis(0, yMax, yTicks, yTicks.map(String), 16, { name: 'IL-2 (pg/mL)', nameGap: g.left - 29, nameSize: 22 }),
    );
    series.push({
      type: 'bar', xAxisIndex: ax.xi, yAxisIndex: ax.yi, barWidth: 28, silent: true,
      data: bars.map((v, i) => ({ value: [barX[i], v], itemStyle: { color: '#fff', borderColor: i % 2 === 0 ? RED : TEAL, borderWidth: 2 } })),
    });
    series.push(errSeries(ax.xi, ax.yi, err.map((e, i) => [barX[i], e[0], e[1]]), 20, bars.map((_, i) => (i % 2 === 0 ? RED : TEAL)), 1.5));
    series.push({
      type: 'scatter', xAxisIndex: ax.xi, yAxisIndex: ax.yi, symbol: 'circle', symbolSize: 10, z: 5, silent: true, itemStyle: { color: RED },
      data: [0, 2].flatMap((i) => pts[i].map((v, k) => [barX[i] + cJit[k], v])),
    });
    series.push({
      type: 'scatter', xAxisIndex: ax.xi, yAxisIndex: ax.yi, symbol: 'triangle', symbolSize: 11, z: 5, silent: true, itemStyle: { color: TEAL },
      data: [1, 3].flatMap((i) => pts[i].map((v, k) => [barX[i] + cJit[k], v])),
    });
  };
  cPanel({ left: 97, top: 609, width: 245, height: 199 }, [18.8, 82.4], cTopCats, [11.2, 25.5, 74, 88.4], 10000, [0, 3000, 6000, 9000], cTopBars, cTopErr, cTopPts);
  cPanel({ left: 96, top: 876, width: 254, height: 202 }, [17.7, 81.5], cBotCats, [10.6, 24.8, 74.2, 88.4], 50000, [0, 20000, 40000], cBotBars, cBotErr, cBotPts);
  graphic.push(gText(146, 645, 'p = 0.0023', 17.5, { italic: true }), gLine(123, 657, 158, 657));
  graphic.push(gText(307, 608, 'p = 1.0 x 10^{-5}', 17.5, { italic: true }), gLine(277, 620, 312, 620));
  graphic.push(gText(143, 884, 'p = 0.0185', 17.5, { italic: true }), gLine(121, 896, 156, 896));
  graphic.push(gText(299, 965, 'p = 0.0004', 17.5, { italic: true }), gLine(283, 978, 318, 978));

  // ================= Panel d =================
  const dPanel = (g: AnyObj, red: number[], teal: number[], redSD: number[], tealSD: number[], xName: boolean) => {
    const xa = numAxis(0, 70, dXTicks, dXTicks.map(String), 18, { margin: 10 });
    if (xName) {
      xa.name = 'Time (hours)';
      xa.nameLocation = 'middle';
      xa.nameGap = 36;
      xa.nameTextStyle = { ...lbl(22), lineHeight: 22 };
    }
    const ax = addGrid(g, xa, numAxis(0, 1.5, dYTicks, dYTicks.map((v) => v.toFixed(1)), 18, { name: 'Cytotoxicity Index', nameGap: 50, nameSize: 22 }));
    series.push(errSeries(ax.xi, ax.yi, dTime.map((t, i) => [t, red[i] - redSD[i], red[i] + redSD[i]]), 7, RED, 1.2));
    series.push(errSeries(ax.xi, ax.yi, dTime.map((t, i) => [t, teal[i] - tealSD[i], teal[i] + tealSD[i]]), 7, TEAL, 1.2));
    series.push({
      type: 'line', xAxisIndex: ax.xi, yAxisIndex: ax.yi, silent: true, z: 5, symbol: 'triangle', symbolSize: 10,
      itemStyle: { color: TEAL }, lineStyle: { color: TEAL, width: 1.2 }, data: dTime.map((t, i) => [t, teal[i]]),
    });
    series.push({
      type: 'line', xAxisIndex: ax.xi, yAxisIndex: ax.yi, silent: true, z: 6, symbol: 'circle', symbolSize: 9,
      itemStyle: { color: RED }, lineStyle: { color: RED, width: 1.2 }, data: dTime.map((t, i) => [t, red[i]]),
    });
  };
  dPanel({ left: 535, top: 621, width: 284, height: 184 }, dTopRed, dTopTeal, dTopRedSD, dTopTealSD, false);
  dPanel({ left: 535, top: 888, width: 284, height: 187 }, dBotRed, dBotTeal, dBotRedSD, dBotTealSD, true);
  graphic.push(gCircle(585, 627, 6.5, RED), gText(612, 627, 'B7-H3-4-1BBζ', 20, { align: 'left' }));
  graphic.push(gTri(585, 663, 14, TEAL), gText(612, 663, 'B7-H3-ZAP-70^{KIDB}', 20, { align: 'left' }));
  graphic.push(gCircle(582, 882, 6.5, RED), gText(609, 882, 'GD2-4-1BBζ', 20, { align: 'left' }));
  graphic.push(gTri(582, 919, 14, TEAL), gText(609, 919, 'GD2-ZAP-70^{KIDB}', 20, { align: 'left' }));

  // ================= Panel e =================
  const eTicks = [1, 2, 3, 4, 5, 6];
  const ex = addGrid(
    { left: 1017, top: 612, width: 640, height: 224 },
    numAxis(0.45, 6.55, eTicks, eCats, 22, { margin: 13, tickLen: 9 }),
    numAxis(0, 5, [0, 2, 4], ['0', '2', '4'], 22, { name: 'Percent CAR+ of living\ncells in bone marrow', nameGap: 40, nameSize: 21.5, nameLH: 24 }),
  );
  series.push(dashDot(ex, [[3.5, -0.95], [3.5, 5]]));
  const eRedOff = [-0.13, -0.045, 0.045, 0.13];
  const eTealOff = [0, 0, -0.1, 0.1, 0];
  series.push({
    type: 'scatter', xAxisIndex: ex.xi, yAxisIndex: ex.yi, symbol: 'circle', symbolSize: 11, silent: true, z: 3, itemStyle: { color: RED },
    data: eRed.flatMap((vals, ci) => vals.map((v, k) => [eTicks[ci] - 0.21 + eRedOff[k], v])),
  });
  series.push({
    type: 'scatter', xAxisIndex: ex.xi, yAxisIndex: ex.yi, symbol: 'triangle', symbolSize: 13, silent: true, z: 3, itemStyle: { color: TEAL },
    data: eTeal.flatMap((vals, ci) => vals.map((v, k) => [eTicks[ci] + 0.2 + eTealOff[k], v])),
  });
  series.push(meanSeries(ex.xi, ex.yi, eRedMean.map((m, i) => [eTicks[i] - 0.21, m]), 14, '#e07a72', 2.5));
  series.push(errSeries(ex.xi, ex.yi, eRedMean.map((m, i) => [eTicks[i] - 0.21, m - eRedSEM[i], m + eRedSEM[i]]), 16, '#e07a72', 1.5));
  series.push(meanSeries(ex.xi, ex.yi, eTealMean.map((m, i) => [eTicks[i] + 0.2, m]), 18, TEAL, 2.5));
  series.push(errSeries(ex.xi, ex.yi, eTealMean.map((m, i) => [eTicks[i] + 0.2, m - eTealSEM[i], m + eTealSEM[i]]), 22, TEAL, 1.5));
  const ePTxt = [[1069, 624], [1179, 732], [1281, 699], [1388, 657], [1497, 688], [1607, 765]];
  const ePLine = [[1045, 1097, 637], [1154, 1200, 746], [1255, 1307, 712], [1359, 1414, 669], [1471, 1527, 702], [1579, 1631, 779]];
  eP.forEach((t, i) => {
    graphic.push(gText(ePTxt[i][0], ePTxt[i][1], t, 17, { italic: true }));
    graphic.push(gLine(ePLine[i][0], ePLine[i][2], ePLine[i][1], ePLine[i][2]));
  });
  graphic.push(gPoly([[1020, 879], [1020, 894], [1336, 894], [1336, 879]], 2), gLine(1177, 894, 1177, 905));
  graphic.push(gPoly([[1341, 879], [1341, 894], [1654, 894], [1654, 879]], 2), gLine(1497, 894, 1497, 905));
  graphic.push(gText(1177, 921, eGroups[0], 22), gText(1497, 921, eGroups[1], 22));
  graphic.push(gCircle(1594, 616, 6, RED), gText(1622, 616, 'B7-H3-4-1BBζ', 17, { align: 'left' }));
  graphic.push(gTri(1594, 653, 13, TEAL), gText(1622, 653, 'B7-H3-ZAP-70^{KIDB}', 17, { align: 'left' }));

  // ================= Panel f =================
  const fTickX = [28.5, 71.5];
  const fx = addGrid(
    { left: 167, top: 1326, width: 305, height: 270 },
    numAxis(0, 100, fTickX, fCats, 22, { margin: 20, rotate: 30, tickLen: 9 }),
    numAxis(0, 5e6, fYTicks, fYTicks.map((v) => (v === 0 ? '0' : `${Math.round(v / 1e6)}×10^{6}`)), 24, { name: 'CAR^{+} T cells in spleen', nameGap: 93, nameSize: 22 }),
  );
  const fRedJit = [-8, 0, 0, 8];
  const fTealJit = [0, 0, -8, 8];
  series.push(meanSeries(fx.xi, fx.yi, [[fTickX[0], fRedMean]], 43, RED, 2.5));
  series.push(errSeries(fx.xi, fx.yi, [[fTickX[0], fRedMean - fRedSEM, fRedMean + fRedSEM]], 44, RED, 1.5));
  series.push(meanSeries(fx.xi, fx.yi, [[fTickX[1], fTealMean]], 43, TEAL, 2.5));
  series.push(errSeries(fx.xi, fx.yi, [[fTickX[1], fTealMean - fTealSEM, fTealMean + fTealSEM]], 44, TEAL, 1.5));
  series.push({ type: 'scatter', xAxisIndex: fx.xi, yAxisIndex: fx.yi, symbol: 'circle', symbolSize: 11, silent: true, z: 5, itemStyle: { color: RED }, data: fRed.map((v, k) => [fTickX[0] + fRedJit[k], v]) });
  series.push({ type: 'scatter', xAxisIndex: fx.xi, yAxisIndex: fx.yi, symbol: 'triangle', symbolSize: 13, silent: true, z: 5, itemStyle: { color: TEAL }, data: fTeal.map((v, k) => [fTickX[1] + fTealJit[k], v]) });
  graphic.push(gText(317, 1312, 'p = 0.0286', 17.5, { italic: true }), gLine(253, 1326, 382, 1326));

  // ================= Panel g =================
  const gx = addGrid(
    { left: 672, top: 1323, width: 386, height: 256 },
    numAxis(0, 114, gXTicks, gXTicks.map(String), 23, { margin: 13, tickLen: 9, name: 'Day Post Tumor Inoculation', nameGap: 53, nameSize: 22 }),
    numAxis(5, 11.33, gYTicks, gYLabels, 25, { margin: 8, tickLen: 9, supRatio: 0.72, name: 'Tumor Flux (p/s)', nameGap: 73, nameSize: 22 }),
  );
  gMock.forEach((l) => series.push(lineSeries(gx, l, MOCKLINE, 2.8)));
  gNalm6.forEach((l) => series.push(lineSeries(gx, l, LBLUE, 2.8)));
  gB7H3.forEach((l) => series.push(lineSeries(gx, l, TEAL, 2.8)));
  series.push(dashDot(gx, [[30, 5], [30, 11.33]]));
  graphic.push(gText(890, 1362, 'p = 0.0024', 18, { italic: true }), gLine(839, 1376, 921, 1376));
  [LBLUE, TEAL, MOCKLINE].forEach((c, i) => {
    const y = [1225, 1260, 1293][i];
    graphic.push({ type: 'line', silent: true, z: 100, shape: { x1: 690, y1: y, x2: 716, y2: y }, style: { stroke: c, lineWidth: 5, lineCap: 'round' } });
    graphic.push(gText(728, y, gLegend[i], 19, { align: 'left' }));
  });

  // ================= Panel h =================
  const hx = addGrid(
    { left: 1222, top: 1323, width: 388, height: 257 },
    numAxis(0, 114, gXTicks, gXTicks.map(String), 23, { margin: 13, tickLen: 9, name: 'Day Post Tumor Inoculation', nameGap: 53, nameSize: 22 }),
    numAxis(0, 110, hYTicks, hYTicks.map(String), 24, { margin: 8, tickLen: 9, name: 'Probability of Survival', nameGap: 62, nameSize: 22 }),
  );
  series.push(lineSeries(hx, hMock, MOCKLINE, 3, { lineStyle: { color: MOCKLINE, width: 3, cap: 'butt', join: 'miter' } }));
  series.push(lineSeries(hx, hB7H3, TEAL, 3.5, { lineStyle: { color: TEAL, width: 3.5, cap: 'butt', join: 'miter' } }));
  series.push(lineSeries(hx, hNalm6, LBLUE, 3.5, { lineStyle: { color: LBLUE, width: 3.5, cap: 'butt', join: 'miter' } }));
  series.push(dashDot(hx, [[30, 0], [30, 110]]));
  series.push(lineSeries(hx, [[56, 48], [101, 48], [101, 76.6]], '#000', 1.5, { lineStyle: { color: '#000', width: 1.5, cap: 'butt', join: 'miter' } }));
  graphic.push(gText(1463, 1454, 'p = 0.0018', 17.5, { italic: true }));
  [LBLUE, TEAL, MOCKLINE].forEach((c, i) => {
    const y = [1223, 1257, 1288][i];
    graphic.push({ type: 'line', silent: true, z: 100, shape: { x1: 1226, y1: y, x2: 1251, y2: y }, style: { stroke: c, lineWidth: 5, lineCap: 'round' } });
    graphic.push(gText(1264, y, gLegend[i], 19, { align: 'left' }));
  });

  // ================= Panel i =================
  const iTickPos = [20, 50, 66, 83, 94];
  const ix = addGrid(
    { left: 397, top: 1762, width: 262, height: 263, show: true, borderColor: '#555', borderWidth: 1 },
    {
      type: 'value', min: 0, max: 100,
      axisLine: { show: false },
      axisTick: { show: true, length: 6, customValues: iTickPos, lineStyle: { color: '#222', width: 1.5 } },
      axisLabel: { ...lbl(17), margin: 10, customValues: iTickPos, formatter: (v: number) => labelAt(v, iTickPos, iTickLab) },
      splitLine: { show: false },
      name: 'CAR (DL 650)', nameLocation: 'middle', nameGap: 51, nameTextStyle: { ...lbl(21.5), lineHeight: 22 },
    },
    {
      type: 'value', min: 0, max: 5, interval: 1,
      axisLine: { show: false }, axisTick: { show: false }, axisLabel: { show: false },
      splitLine: { show: true, lineStyle: { color: '#d6d6d6', width: 1 } },
    },
  );
  xAxis.push({
    gridIndex: ix.gi, type: 'value', min: 0, max: 100, position: 'bottom',
    axisLine: { show: false },
    axisTick: { show: true, length: 3, customValues: minorTicks([20, 34, 50, 66, 83, 94], ['0', '10^{3}', '10^{4}', '10^{5}', '10^{6}', '10^{7}']), lineStyle: { color: '#222', width: 1 } },
    axisLabel: { show: false }, splitLine: { show: false },
  });
  series.push(histSeries(ix.xi, ix.yi, iHist, ['#aaaaaa', '#5f607f', '#f8afaf', '#abd0f6', '#4f9b92'], ['#888888', '#23264b', '#f08c8c', '#86b9ee', '#1d6b61']));
  [1793, 1845, 1893, 1947, 1997].forEach((y, i) => graphic.push(gText(385, y, iRows[i], 21.5, { align: 'right' })));

  // ================= Panel j =================
  const jx = addGrid(
    { left: 937, top: 1763, width: 385, height: 258 },
    numAxis(0, 49.5, jXTicks, jXTicks.map(String), 23, { margin: 12, tickLen: 9, name: 'Day Post Tumor Inoculation', nameGap: 54, nameSize: 22 }),
    numAxis(0, 450, jYTicks, jYTicks.map(String), 23, { margin: 8, tickLen: 9, name: 'Tumor Area (mm²)', nameGap: 70, nameSize: 23 }),
  );
  jMock.forEach((l) => series.push(lineSeries(jx, l, MOCKLINE, 2.5)));
  j28z1xx.forEach((l) => series.push(lineSeries(jx, l, PINK, 2.5)));
  jz1xx.forEach((l) => series.push(lineSeries(jx, l, SKY, 2.5)));
  jZap.forEach((l) => series.push(lineSeries(jx, l, TEAL, 2.5)));
  j28z.forEach((l) => series.push(lineSeries(jx, l, NAVY, 2.5)));
  const jCols = [NAVY, PINK, SKY, TEAL, MOCKLINE];
  const jY = [1770, 1808, 1845, 1882, 1920];
  jLegend.forEach((t, i) => {
    graphic.push({ type: 'line', silent: true, z: 100, shape: { x1: 1337, y1: jY[i], x2: 1362, y2: jY[i] }, style: { stroke: jCols[i], lineWidth: 5, lineCap: 'round' } });
    graphic.push(gText(1377, jY[i], t, 21, { align: 'left' }));
  });
  graphic.push(gText(1548, 1771, jP[0], 17, { italic: true }));
  graphic.push(gText(1590, 1808, jP[1], 17, { italic: true }));
  graphic.push(gText(1564, 1844, jP[2], 17, { italic: true }));
  graphic.push(gPoly([[1617, 1768], [1676, 1768], [1676, 1891], [1565, 1891]], 1.5));
  graphic.push(gPoly([[1640, 1807], [1671, 1807], [1671, 1887], [1565, 1887]], 1.5));
  graphic.push(gPoly([[1621, 1843], [1665, 1843], [1665, 1883], [1565, 1883]], 1.5));

  return {
    animation: false,
    backgroundColor: '#ffffff',
    textStyle: { fontFamily: FONT, color: '#000' },
    grid,
    xAxis,
    yAxis,
    series,
    graphic: { elements: graphic },
  };
}

export default function App() {
  const ref = useRef<HTMLDivElement>(null);
  useEffect(() => {
    if (!ref.current) return;
    const chart = echarts.init(ref.current, undefined, { renderer: 'svg' });
    chart.setOption(buildOption() as any);
    return () => chart.dispose();
  }, []);
  return (
    <div
      ref={ref}
      style={{ position: 'absolute', left: 0, top: 0, width: 1789, height: 2100, background: '#fff' }}
    />
  );
}
